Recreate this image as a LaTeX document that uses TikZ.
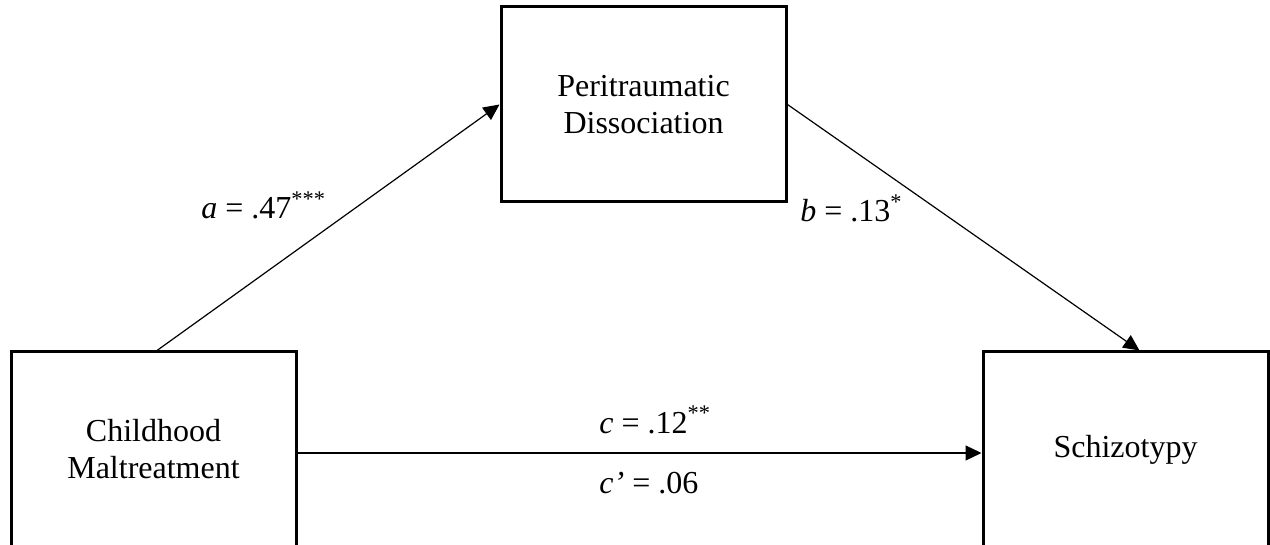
\documentclass[tikz,border=0pt]{standalone}
\usepackage{fontspec}
\setmainfont{Liberation Serif}
\usetikzlibrary{arrows.meta}
\begin{document}
\begin{tikzpicture}[x=0.5pt,y=-0.5pt,
  box/.style={draw,line width=1.5pt,minimum width=142.5pt,minimum height=97.5pt,align=center,inner sep=0pt,font=\fontsize{16}{18.5}\selectfont},
  conn/.style={line width=0.6pt,-{Triangle[length=8pt,width=7.5pt]}},
  lab/.style={font=\fontsize{16}{18.5}\selectfont,inner sep=0pt,anchor=base west}]
\clip (0,0) rectangle (1270,545);
\node[box] (pd) at (643.5,104.5) {Peritraumatic\\Dissociation};
\node[box] (cm) at (153.5,449.5) {Childhood\\Maltreatment};
\node[box] (sz) at (1125.5,449.5) {Schizotypy};
\draw[conn] ([xshift=1.75pt]cm.north) -- (pd.west);
\draw[conn] (pd.east) -- ([xshift=7pt]sz.north);
\draw[conn] ([yshift=-1.75pt]cm.east) -- ([yshift=-1.75pt]sz.west);
\node[lab] (la) at (201,219) {\textit{a} = .47\textsuperscript{***}};
\node[lab] (lb) at (800,222) {\textit{b} = .13\textsuperscript{*}};
\node[lab] (lc) at (599,433) {\textit{c} = .12\textsuperscript{**}};
\node[lab] (lc2) at (599,493) {\textit{c’} = .06};
\end{tikzpicture}
\end{document}
